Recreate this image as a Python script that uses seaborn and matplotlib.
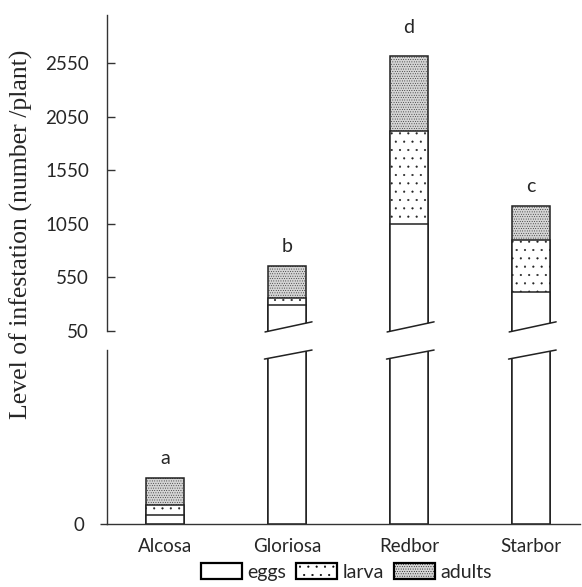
import seaborn as sns
import matplotlib.pyplot as plt
import numpy as np
import pandas as pd
from matplotlib.path import Path
from matplotlib.transforms import blended_transform_factory
from matplotlib.patches import Patch

cultivars = ["Alcosa", "Gloriosa", "Redbor", "Starbor"]
eggs = [2.6, 293, 1050, 414]
larva = [2.9, 68, 868, 486]
adults = [7.7, 296, 700, 318]
letters = ["a", "b", "d", "c"]
top_ticks = [50, 550, 1050, 1550, 2050, 2550]

sns.set_style("white")
plt.rcParams["font.family"] = ["Lato", "DejaVu Sans"]
plt.rcParams["hatch.linewidth"] = 0.3

df = pd.DataFrame({"cultivar": cultivars, "eggs": eggs, "larva": larva, "adults": adults})
df["c_eggs"] = df["eggs"]
df["c_larva"] = df["eggs"] + df["larva"]
df["c_adults"] = df["c_larva"] + df["adults"]

fig = plt.figure(figsize=(5.82, 5.87), dpi=100)
ax_top = fig.add_axes([0.1838, 0.4361, 0.8127, 0.5383])
ax_bot = fig.add_axes([0.1838, 0.1073, 0.8127, 0.2964])

edge = "#222222"
# (column, hatch, face colour)
layers = [("c_adults", ".......", "#d4d4d4"), ("c_larva", "..", "white"), ("c_eggs", "", "white")]
w = 0.31
for ax in (ax_top, ax_bot):
    for col, hatch, fc in layers:
        sns.barplot(data=df, x="cultivar", y=col, order=cultivars, ax=ax,
                    color=fc, edgecolor=edge, linewidth=1.1,
                    hatch=hatch, width=w, saturation=1)
    ax.set_xlim(-0.475, 3.40)
    ax.set_xlabel("")
    ax.set_ylabel("")

ax_top.set_ylim(50, 3000)
ax_bot.set_ylim(0, 50)

# slanted break marks (x in data, y in axes fraction)
def slant(x0, x1, y0, y1):
    return lambda x: y0 + (x - x0) * (y1 - y0) / (x1 - x0)

tr_top = blended_transform_factory(ax_top.transData, ax_top.transAxes)
tr_bot = blended_transform_factory(ax_bot.transData, ax_bot.transAxes)
totals = df["c_adults"].values
for ax, tr, is_top in ((ax_top, tr_top, True), (ax_bot, tr_bot, False)):
    for p in ax.patches:
        xc = p.get_x() + p.get_width() / 2
        i = int(round(xc))
        if totals[i] <= 50:
            continue
        xl, xr = p.get_x(), p.get_x() + p.get_width()
        if is_top:
            f = slant(xl - 0.025, xr + 0.05, -0.003, 0.029)
            verts = [(xl - 0.1, f(xl - 0.1)), (xr + 0.1, f(xr + 0.1)), (xr + 0.1, 2), (xl - 0.1, 2), (0, 0)]
        else:
            f = slant(xl - 0.03, xr + 0.05, 0.948, 1.0)
            verts = [(xl - 0.1, f(xl - 0.1)), (xr + 0.1, f(xr + 0.1)), (xr + 0.1, -1), (xl - 0.1, -1), (0, 0)]
        codes = [Path.MOVETO, Path.LINETO, Path.LINETO, Path.LINETO, Path.CLOSEPOLY]
        p.set_clip_path(Path(verts, codes), tr)
    for i in range(len(cultivars)):
        if totals[i] <= 50:
            continue
        xl, xr = i - w / 2, i + w / 2
        if is_top:
            xs, ys = [xl - 0.025, xr + 0.05], [-0.003, 0.029]
        else:
            xs, ys = [xl - 0.03, xr + 0.05], [0.948, 1.0]
        ax.plot(xs, ys, color=edge, lw=1.1, transform=tr, clip_on=False)

# letters above bars
for i, lab in enumerate(letters):
    ax = ax_bot if totals[i] <= 50 else ax_top
    off = 14 if lab == "d" else 8
    ax.annotate(lab, (i, totals[i]), xytext=(0, off), textcoords="offset points",
                ha="center", va="bottom", fontsize=14)

# axes styling
for ax in (ax_top, ax_bot):
    for s in ["top", "right"]:
        ax.spines[s].set_visible(False)
    ax.spines["left"].set_color("#333333")
    ax.spines["left"].set_linewidth(1.0)

ax_top.spines["bottom"].set_visible(False)
ax_top.set_xticks([])
ax_top.set_yticks(top_ticks)
ax_top.tick_params(axis="y", direction="in", length=6, width=1, color="#333333",
                   labelsize=13.5, pad=13, left=True)

ax_bot.spines["bottom"].set_color("#333333")
ax_bot.spines["bottom"].set_linewidth(1.0)
ax_bot.set_yticks([0])
ax_bot.tick_params(axis="y", direction="out", length=5, width=1, color="#333333",
                   labelsize=13.5, pad=11, left=True)
ax_bot.tick_params(axis="x", length=0, labelsize=13.5, pad=10)

fig.text(0.036, 0.60, "Level of infestation (number /plant)", rotation=90,
         ha="center", va="center", fontsize=18.5, family=["Liberation Serif", "DejaVu Serif"])

handles = [Patch(facecolor=fc, edgecolor="black", linewidth=1.6, hatch=h)
           for _, h, fc in reversed(layers)]
fig.legend(handles, ["eggs", "larva", "adults"], loc="center", bbox_to_anchor=(0.595, 0.026),
           ncol=3, frameon=False, fontsize=14, handlelength=2.1, handleheight=0.95,
           handletextpad=0.3, columnspacing=0.5, borderpad=0)

fig.savefig("out.png", dpi=100)
